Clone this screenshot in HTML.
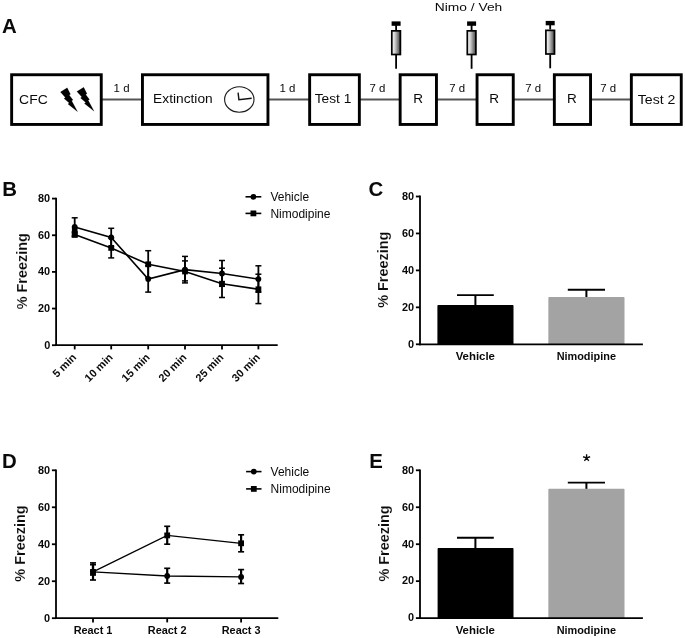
<!DOCTYPE html>
<html><head><meta charset="utf-8"><title>Figure</title>
<style>html,body{margin:0;padding:0;background:#fff;}svg{will-change:transform;display:block;position:absolute;left:0;top:0;}text{font-family:"Liberation Sans", sans-serif;fill:#0a0a0a;}</style>
</head><body>
<svg width="685" height="638" viewBox="0 0 685 638">
<defs><linearGradient id="syr" x1="0" y1="0" x2="1" y2="0"><stop offset="0" stop-color="#ffffff"/><stop offset="0.35" stop-color="#d0d0d0"/><stop offset="1" stop-color="#404040"/></linearGradient></defs>
<rect x="0" y="0" width="685" height="638" fill="#ffffff"/>
<text x="2.00" y="33.40" font-size="20.40" font-weight="bold">A</text>
<text x="2.20" y="196.10" font-size="20.40" font-weight="bold">B</text>
<text x="368.60" y="196.00" font-size="20.40" font-weight="bold">C</text>
<text x="2.00" y="468.00" font-size="20.40" font-weight="bold">D</text>
<text x="369.20" y="468.00" font-size="20.40" font-weight="bold">E</text>
<line x1="101.7" y1="99.5" x2="142.0" y2="99.5" stroke="#555" stroke-width="1.9"/>
<line x1="268.4" y1="99.5" x2="309.2" y2="99.5" stroke="#555" stroke-width="1.9"/>
<line x1="359.8" y1="99.5" x2="399.7" y2="99.5" stroke="#555" stroke-width="1.9"/>
<line x1="436.9" y1="99.5" x2="476.6" y2="99.5" stroke="#555" stroke-width="1.9"/>
<line x1="513.7" y1="99.5" x2="553.9" y2="99.5" stroke="#555" stroke-width="1.9"/>
<line x1="591.0" y1="99.5" x2="630.9" y2="99.5" stroke="#555" stroke-width="1.9"/>
<rect x="11.65" y="74.75" width="89.60" height="49.70" fill="#fff" stroke="#000" stroke-width="2.9"/>
<rect x="142.45" y="74.75" width="125.50" height="49.70" fill="#fff" stroke="#000" stroke-width="2.9"/>
<rect x="309.65" y="74.75" width="49.70" height="49.70" fill="#fff" stroke="#000" stroke-width="2.9"/>
<rect x="400.15" y="74.75" width="36.30" height="49.70" fill="#fff" stroke="#000" stroke-width="2.9"/>
<rect x="477.05" y="74.75" width="36.20" height="49.70" fill="#fff" stroke="#000" stroke-width="2.9"/>
<rect x="554.35" y="74.75" width="36.20" height="49.70" fill="#fff" stroke="#000" stroke-width="2.9"/>
<rect x="631.35" y="74.75" width="49.90" height="49.70" fill="#fff" stroke="#000" stroke-width="2.9"/>
<text x="19.10" y="104.30" font-size="12.00" textLength="28.60" lengthAdjust="spacingAndGlyphs">CFC</text>
<text x="153.10" y="103.20" font-size="12.00" textLength="59.60" lengthAdjust="spacingAndGlyphs">Extinction</text>
<text x="314.70" y="103.10" font-size="12.00" textLength="36.60" lengthAdjust="spacingAndGlyphs">Test 1</text>
<text x="637.80" y="103.80" font-size="12.00" textLength="37.60" lengthAdjust="spacingAndGlyphs">Test 2</text>
<text x="413.20" y="102.90" font-size="12.00" textLength="9.80" lengthAdjust="spacingAndGlyphs">R</text>
<text x="489.30" y="102.90" font-size="12.00" textLength="9.80" lengthAdjust="spacingAndGlyphs">R</text>
<text x="566.90" y="102.90" font-size="12.00" textLength="9.80" lengthAdjust="spacingAndGlyphs">R</text>
<text x="113.60" y="92.20" font-size="10.20" textLength="15.90" lengthAdjust="spacingAndGlyphs">1 d</text>
<text x="279.50" y="92.20" font-size="10.20" textLength="15.90" lengthAdjust="spacingAndGlyphs">1 d</text>
<text x="369.50" y="92.20" font-size="10.20" textLength="15.90" lengthAdjust="spacingAndGlyphs">7 d</text>
<text x="449.30" y="92.20" font-size="10.20" textLength="15.90" lengthAdjust="spacingAndGlyphs">7 d</text>
<text x="525.20" y="92.20" font-size="10.20" textLength="15.90" lengthAdjust="spacingAndGlyphs">7 d</text>
<text x="600.30" y="92.20" font-size="10.20" textLength="15.90" lengthAdjust="spacingAndGlyphs">7 d</text>
<text x="434.80" y="11.00" font-size="11.70" textLength="67.50" lengthAdjust="spacingAndGlyphs">Nimo / Veh</text>
<polygon points="60.4,92.0 67.2,87.8 70.5,94.3 69.2,95.0 73.0,100.0 71.7,100.8 77.6,111.7 67.9,104.0 69.2,103.1 64.0,98.5 65.3,97.5" fill="#000" stroke="#000" stroke-width="0.15"/>
<polygon points="76.9,91.5 83.7,87.3 87.0,93.8 85.7,94.5 89.5,99.5 88.2,100.3 94.1,111.2 84.4,103.5 85.7,102.6 80.5,98.0 81.8,97.0" fill="#000" stroke="#000" stroke-width="0.15"/>
<ellipse cx="239.3" cy="99.5" rx="14.7" ry="12.7" fill="#fff" stroke="#1a1a1a" stroke-width="1.1"/>
<polyline points="238.1,92.6 238.9,99.7 251.7,98.2" fill="none" stroke="#111" stroke-width="1.4"/>
<g transform="translate(0,0.00)">
<rect x="391.6" y="21.4" width="9.0" height="4.4" fill="#000"/>
<line x1="396.1" y1="25" x2="396.1" y2="30" stroke="#000" stroke-width="1.8"/>
<rect x="391.8" y="30.85" width="8.6" height="23.65" fill="url(#syr)" stroke="#000" stroke-width="1.7"/>
<line x1="396.1" y1="55" x2="396.1" y2="68.8" stroke="#000" stroke-width="1.8"/>
</g>
<g transform="translate(0,0.00)">
<rect x="467.1" y="21.4" width="9.0" height="4.4" fill="#000"/>
<line x1="471.6" y1="25" x2="471.6" y2="30" stroke="#000" stroke-width="1.8"/>
<rect x="467.3" y="30.85" width="8.6" height="23.65" fill="url(#syr)" stroke="#000" stroke-width="1.7"/>
<line x1="471.6" y1="55" x2="471.6" y2="68.8" stroke="#000" stroke-width="1.8"/>
</g>
<g transform="translate(0,-0.50)">
<rect x="545.7" y="21.4" width="9.0" height="4.4" fill="#000"/>
<line x1="550.2" y1="25" x2="550.2" y2="30" stroke="#000" stroke-width="1.8"/>
<rect x="545.9" y="30.85" width="8.6" height="23.65" fill="url(#syr)" stroke="#000" stroke-width="1.7"/>
<line x1="550.2" y1="55" x2="550.2" y2="68.8" stroke="#000" stroke-width="1.8"/>
</g>
<line x1="56.10" y1="197.70" x2="56.10" y2="346.10" stroke="#000" stroke-width="1.8"/>
<line x1="52.00" y1="345.20" x2="56.10" y2="345.20" stroke="#000" stroke-width="1.8"/>
<text x="50.20" y="348.50" font-size="10.90" font-weight="bold" text-anchor="end">0</text>
<line x1="52.00" y1="308.55" x2="56.10" y2="308.55" stroke="#000" stroke-width="1.8"/>
<text x="50.20" y="311.85" font-size="10.90" font-weight="bold" text-anchor="end">20</text>
<line x1="52.00" y1="271.90" x2="56.10" y2="271.90" stroke="#000" stroke-width="1.8"/>
<text x="50.20" y="275.20" font-size="10.90" font-weight="bold" text-anchor="end">40</text>
<line x1="52.00" y1="235.25" x2="56.10" y2="235.25" stroke="#000" stroke-width="1.8"/>
<text x="50.20" y="238.55" font-size="10.90" font-weight="bold" text-anchor="end">60</text>
<line x1="52.00" y1="198.60" x2="56.10" y2="198.60" stroke="#000" stroke-width="1.8"/>
<text x="50.20" y="201.90" font-size="10.90" font-weight="bold" text-anchor="end">80</text>
<text transform="translate(27.30,271.20) rotate(-90)" font-size="14.45" font-weight="bold" text-anchor="middle" stroke="#fff" stroke-width="0.12">% Freezing</text>
<line x1="55.20" y1="345.20" x2="277.70" y2="345.20" stroke="#000" stroke-width="1.8"/>
<line x1="74.70" y1="345.20" x2="74.70" y2="349.40" stroke="#000" stroke-width="1.8"/>
<line x1="111.20" y1="345.20" x2="111.20" y2="349.40" stroke="#000" stroke-width="1.8"/>
<line x1="148.20" y1="345.20" x2="148.20" y2="349.40" stroke="#000" stroke-width="1.8"/>
<line x1="185.00" y1="345.20" x2="185.00" y2="349.40" stroke="#000" stroke-width="1.8"/>
<line x1="222.00" y1="345.20" x2="222.00" y2="349.40" stroke="#000" stroke-width="1.8"/>
<line x1="258.40" y1="345.20" x2="258.40" y2="349.40" stroke="#000" stroke-width="1.8"/>
<text transform="translate(77.00,358.00) rotate(-45)" font-size="10.90" font-weight="bold" text-anchor="end">5 min</text>
<text transform="translate(113.50,358.00) rotate(-45)" font-size="10.90" font-weight="bold" text-anchor="end">10 min</text>
<text transform="translate(150.50,358.00) rotate(-45)" font-size="10.90" font-weight="bold" text-anchor="end">15 min</text>
<text transform="translate(187.30,358.00) rotate(-45)" font-size="10.90" font-weight="bold" text-anchor="end">20 min</text>
<text transform="translate(224.30,358.00) rotate(-45)" font-size="10.90" font-weight="bold" text-anchor="end">25 min</text>
<text transform="translate(260.70,358.00) rotate(-45)" font-size="10.90" font-weight="bold" text-anchor="end">30 min</text>
<polyline points="74.70,227.00 111.20,237.50 148.20,279.00 185.00,269.60 222.00,273.50 258.40,279.10" fill="none" stroke="#000" stroke-width="1.60"/>
<path d="M74.70 217.80V236.00" stroke="#000" stroke-width="1.80" fill="none"/>
<path d="M71.70 217.80H77.70" stroke="#000" stroke-width="1.50" fill="none"/>
<path d="M71.70 236.00H77.70" stroke="#000" stroke-width="1.50" fill="none"/>
<circle cx="74.70" cy="227.00" r="2.9" fill="#000"/>
<path d="M111.20 228.30V246.70" stroke="#000" stroke-width="1.80" fill="none"/>
<path d="M108.20 228.30H114.20" stroke="#000" stroke-width="1.50" fill="none"/>
<path d="M108.20 246.70H114.20" stroke="#000" stroke-width="1.50" fill="none"/>
<circle cx="111.20" cy="237.50" r="2.9" fill="#000"/>
<path d="M148.20 265.80V292.10" stroke="#000" stroke-width="1.80" fill="none"/>
<path d="M145.20 265.80H151.20" stroke="#000" stroke-width="1.50" fill="none"/>
<path d="M145.20 292.10H151.20" stroke="#000" stroke-width="1.50" fill="none"/>
<circle cx="148.20" cy="279.00" r="2.9" fill="#000"/>
<path d="M185.00 256.40V282.90" stroke="#000" stroke-width="1.80" fill="none"/>
<path d="M182.00 256.40H188.00" stroke="#000" stroke-width="1.50" fill="none"/>
<path d="M182.00 282.90H188.00" stroke="#000" stroke-width="1.50" fill="none"/>
<circle cx="185.00" cy="269.60" r="2.9" fill="#000"/>
<path d="M222.00 260.50V286.30" stroke="#000" stroke-width="1.80" fill="none"/>
<path d="M219.00 260.50H225.00" stroke="#000" stroke-width="1.50" fill="none"/>
<path d="M219.00 286.30H225.00" stroke="#000" stroke-width="1.50" fill="none"/>
<circle cx="222.00" cy="273.50" r="2.9" fill="#000"/>
<path d="M258.40 265.80V292.20" stroke="#000" stroke-width="1.80" fill="none"/>
<path d="M255.40 265.80H261.40" stroke="#000" stroke-width="1.50" fill="none"/>
<path d="M255.40 292.20H261.40" stroke="#000" stroke-width="1.50" fill="none"/>
<circle cx="258.40" cy="279.10" r="2.9" fill="#000"/>
<polyline points="74.70,234.50 111.20,247.90 148.20,264.30 185.00,271.50 222.00,283.70 258.40,289.30" fill="none" stroke="#000" stroke-width="1.60"/>
<path d="M74.70 232.00V237.00" stroke="#000" stroke-width="1.80" fill="none"/>
<path d="M71.70 232.00H77.70" stroke="#000" stroke-width="1.50" fill="none"/>
<path d="M71.70 237.00H77.70" stroke="#000" stroke-width="1.50" fill="none"/>
<rect x="71.80" y="231.60" width="5.8" height="5.8" fill="#000"/>
<path d="M111.20 238.00V257.90" stroke="#000" stroke-width="1.80" fill="none"/>
<path d="M108.20 238.00H114.20" stroke="#000" stroke-width="1.50" fill="none"/>
<path d="M108.20 257.90H114.20" stroke="#000" stroke-width="1.50" fill="none"/>
<rect x="108.30" y="245.00" width="5.8" height="5.8" fill="#000"/>
<path d="M148.20 250.70V277.90" stroke="#000" stroke-width="1.80" fill="none"/>
<path d="M145.20 250.70H151.20" stroke="#000" stroke-width="1.50" fill="none"/>
<path d="M145.20 277.90H151.20" stroke="#000" stroke-width="1.50" fill="none"/>
<rect x="145.30" y="261.40" width="5.8" height="5.8" fill="#000"/>
<path d="M185.00 260.90V280.90" stroke="#000" stroke-width="1.80" fill="none"/>
<path d="M182.00 260.90H188.00" stroke="#000" stroke-width="1.50" fill="none"/>
<path d="M182.00 280.90H188.00" stroke="#000" stroke-width="1.50" fill="none"/>
<rect x="182.10" y="268.60" width="5.8" height="5.8" fill="#000"/>
<path d="M222.00 268.20V297.50" stroke="#000" stroke-width="1.80" fill="none"/>
<path d="M219.00 268.20H225.00" stroke="#000" stroke-width="1.50" fill="none"/>
<path d="M219.00 297.50H225.00" stroke="#000" stroke-width="1.50" fill="none"/>
<rect x="219.10" y="280.80" width="5.8" height="5.8" fill="#000"/>
<path d="M258.40 274.20V303.60" stroke="#000" stroke-width="1.80" fill="none"/>
<path d="M255.40 274.20H261.40" stroke="#000" stroke-width="1.50" fill="none"/>
<path d="M255.40 303.60H261.40" stroke="#000" stroke-width="1.50" fill="none"/>
<rect x="255.50" y="286.40" width="5.8" height="5.8" fill="#000"/>
<rect x="71.9" y="226.5" width="5.6" height="9" fill="#000"/>
<line x1="245.50" y1="196.80" x2="261.30" y2="196.80" stroke="#000" stroke-width="1.6"/>
<circle cx="253.40" cy="196.80" r="2.9" fill="#000"/>
<text x="270.40" y="201.10" font-size="12.00">Vehicle</text>
<line x1="245.50" y1="213.40" x2="261.30" y2="213.40" stroke="#000" stroke-width="1.6"/>
<rect x="250.50" y="210.50" width="5.8" height="5.8" fill="#000"/>
<text x="270.40" y="217.70" font-size="12.00">Nimodipine</text>
<line x1="56.00" y1="469.40" x2="56.00" y2="619.10" stroke="#000" stroke-width="1.8"/>
<line x1="51.90" y1="618.20" x2="56.00" y2="618.20" stroke="#000" stroke-width="1.8"/>
<text x="50.10" y="621.50" font-size="10.90" font-weight="bold" text-anchor="end">0</text>
<line x1="51.90" y1="581.23" x2="56.00" y2="581.23" stroke="#000" stroke-width="1.8"/>
<text x="50.10" y="584.52" font-size="10.90" font-weight="bold" text-anchor="end">20</text>
<line x1="51.90" y1="544.25" x2="56.00" y2="544.25" stroke="#000" stroke-width="1.8"/>
<text x="50.10" y="547.55" font-size="10.90" font-weight="bold" text-anchor="end">40</text>
<line x1="51.90" y1="507.28" x2="56.00" y2="507.28" stroke="#000" stroke-width="1.8"/>
<text x="50.10" y="510.58" font-size="10.90" font-weight="bold" text-anchor="end">60</text>
<line x1="51.90" y1="470.30" x2="56.00" y2="470.30" stroke="#000" stroke-width="1.8"/>
<text x="50.10" y="473.60" font-size="10.90" font-weight="bold" text-anchor="end">80</text>
<text transform="translate(24.70,543.55) rotate(-90)" font-size="14.45" font-weight="bold" text-anchor="middle" stroke="#fff" stroke-width="0.12">% Freezing</text>
<line x1="55.10" y1="618.20" x2="278.30" y2="618.20" stroke="#000" stroke-width="1.8"/>
<line x1="93.00" y1="618.20" x2="93.00" y2="622.40" stroke="#000" stroke-width="1.8"/>
<line x1="167.20" y1="618.20" x2="167.20" y2="622.40" stroke="#000" stroke-width="1.8"/>
<line x1="241.10" y1="618.20" x2="241.10" y2="622.40" stroke="#000" stroke-width="1.8"/>
<text x="93.00" y="633.60" font-size="10.90" font-weight="bold" text-anchor="middle">React 1</text>
<text x="167.20" y="633.60" font-size="10.90" font-weight="bold" text-anchor="middle">React 2</text>
<text x="241.10" y="633.60" font-size="10.90" font-weight="bold" text-anchor="middle">React 3</text>
<polyline points="93.00,571.90 167.20,576.00 241.10,576.90" fill="none" stroke="#000" stroke-width="1.30"/>
<path d="M93.00 564.70V575.00" stroke="#000" stroke-width="2.20" fill="none"/>
<path d="M90.00 564.70H96.00" stroke="#000" stroke-width="1.65" fill="none"/>
<path d="M90.00 575.00H96.00" stroke="#000" stroke-width="1.65" fill="none"/>
<circle cx="93.00" cy="571.90" r="2.9" fill="#000"/>
<path d="M167.20 568.30V583.10" stroke="#000" stroke-width="2.20" fill="none"/>
<path d="M164.20 568.30H170.20" stroke="#000" stroke-width="1.65" fill="none"/>
<path d="M164.20 583.10H170.20" stroke="#000" stroke-width="1.65" fill="none"/>
<circle cx="167.20" cy="576.00" r="2.9" fill="#000"/>
<path d="M241.10 569.60V583.50" stroke="#000" stroke-width="2.20" fill="none"/>
<path d="M238.10 569.60H244.10" stroke="#000" stroke-width="1.65" fill="none"/>
<path d="M238.10 583.50H244.10" stroke="#000" stroke-width="1.65" fill="none"/>
<circle cx="241.10" cy="576.90" r="2.9" fill="#000"/>
<polyline points="93.00,571.90 167.20,535.40 241.10,543.30" fill="none" stroke="#000" stroke-width="1.30"/>
<path d="M93.00 562.90V580.00" stroke="#000" stroke-width="2.20" fill="none"/>
<path d="M90.00 562.90H96.00" stroke="#000" stroke-width="1.65" fill="none"/>
<path d="M90.00 580.00H96.00" stroke="#000" stroke-width="1.65" fill="none"/>
<rect x="90.10" y="569.00" width="5.8" height="5.8" fill="#000"/>
<path d="M167.20 526.30V544.20" stroke="#000" stroke-width="2.20" fill="none"/>
<path d="M164.20 526.30H170.20" stroke="#000" stroke-width="1.65" fill="none"/>
<path d="M164.20 544.20H170.20" stroke="#000" stroke-width="1.65" fill="none"/>
<rect x="164.30" y="532.50" width="5.8" height="5.8" fill="#000"/>
<path d="M241.10 534.80V551.80" stroke="#000" stroke-width="2.20" fill="none"/>
<path d="M238.10 534.80H244.10" stroke="#000" stroke-width="1.65" fill="none"/>
<path d="M238.10 551.80H244.10" stroke="#000" stroke-width="1.65" fill="none"/>
<rect x="238.20" y="540.40" width="5.8" height="5.8" fill="#000"/>
<line x1="246.10" y1="471.60" x2="261.50" y2="471.60" stroke="#000" stroke-width="1.6"/>
<circle cx="253.80" cy="471.60" r="2.9" fill="#000"/>
<text x="270.60" y="475.90" font-size="12.00">Vehicle</text>
<line x1="246.10" y1="488.90" x2="261.50" y2="488.90" stroke="#000" stroke-width="1.6"/>
<rect x="250.90" y="486.00" width="5.8" height="5.8" fill="#000"/>
<text x="270.60" y="493.20" font-size="12.00">Nimodipine</text>
<line x1="420.00" y1="195.60" x2="420.00" y2="345.20" stroke="#000" stroke-width="1.8"/>
<line x1="415.90" y1="344.30" x2="420.00" y2="344.30" stroke="#000" stroke-width="1.8"/>
<text x="414.10" y="347.60" font-size="10.90" font-weight="bold" text-anchor="end">0</text>
<line x1="415.90" y1="307.35" x2="420.00" y2="307.35" stroke="#000" stroke-width="1.8"/>
<text x="414.10" y="310.65" font-size="10.90" font-weight="bold" text-anchor="end">20</text>
<line x1="415.90" y1="270.40" x2="420.00" y2="270.40" stroke="#000" stroke-width="1.8"/>
<text x="414.10" y="273.70" font-size="10.90" font-weight="bold" text-anchor="end">40</text>
<line x1="415.90" y1="233.45" x2="420.00" y2="233.45" stroke="#000" stroke-width="1.8"/>
<text x="414.10" y="236.75" font-size="10.90" font-weight="bold" text-anchor="end">60</text>
<line x1="415.90" y1="196.50" x2="420.00" y2="196.50" stroke="#000" stroke-width="1.8"/>
<text x="414.10" y="199.80" font-size="10.90" font-weight="bold" text-anchor="end">80</text>
<text transform="translate(388.00,269.70) rotate(-90)" font-size="14.45" font-weight="bold" text-anchor="middle" stroke="#fff" stroke-width="0.12">% Freezing</text>
<path d="M475.40 306.10V295.10" stroke="#000" stroke-width="2.0" fill="none"/>
<path d="M457.00 295.10H493.80" stroke="#000" stroke-width="1.9" fill="none"/>
<rect x="437.40" y="305.10" width="76.10" height="40.00" rx="0.8" fill="#000"/>
<path d="M586.40 298.00V289.80" stroke="#000" stroke-width="2.0" fill="none"/>
<path d="M567.80 289.80H605.00" stroke="#000" stroke-width="1.9" fill="none"/>
<rect x="548.35" y="297.00" width="76.15" height="48.10" rx="0.8" fill="#a3a3a3"/>
<line x1="419.10" y1="344.30" x2="642.90" y2="344.30" stroke="#000" stroke-width="1.8"/>
<text x="475.30" y="359.80" font-size="10.90" font-weight="bold" text-anchor="middle" textLength="39.30" lengthAdjust="spacingAndGlyphs">Vehicle</text>
<text x="586.30" y="359.80" font-size="10.90" font-weight="bold" text-anchor="middle">Nimodipine</text>
<line x1="420.00" y1="469.40" x2="420.00" y2="619.00" stroke="#000" stroke-width="1.8"/>
<line x1="415.90" y1="618.10" x2="420.00" y2="618.10" stroke="#000" stroke-width="1.8"/>
<text x="414.10" y="621.40" font-size="10.90" font-weight="bold" text-anchor="end">0</text>
<line x1="415.90" y1="581.15" x2="420.00" y2="581.15" stroke="#000" stroke-width="1.8"/>
<text x="414.10" y="584.45" font-size="10.90" font-weight="bold" text-anchor="end">20</text>
<line x1="415.90" y1="544.20" x2="420.00" y2="544.20" stroke="#000" stroke-width="1.8"/>
<text x="414.10" y="547.50" font-size="10.90" font-weight="bold" text-anchor="end">40</text>
<line x1="415.90" y1="507.25" x2="420.00" y2="507.25" stroke="#000" stroke-width="1.8"/>
<text x="414.10" y="510.55" font-size="10.90" font-weight="bold" text-anchor="end">60</text>
<line x1="415.90" y1="470.30" x2="420.00" y2="470.30" stroke="#000" stroke-width="1.8"/>
<text x="414.10" y="473.60" font-size="10.90" font-weight="bold" text-anchor="end">80</text>
<text transform="translate(388.90,543.50) rotate(-90)" font-size="14.45" font-weight="bold" text-anchor="middle" stroke="#fff" stroke-width="0.12">% Freezing</text>
<path d="M475.40 548.90V537.80" stroke="#000" stroke-width="2.0" fill="none"/>
<path d="M457.00 537.80H493.80" stroke="#000" stroke-width="1.9" fill="none"/>
<rect x="437.60" y="547.90" width="75.90" height="71.00" rx="0.8" fill="#000"/>
<path d="M586.40 489.70V482.65" stroke="#000" stroke-width="2.0" fill="none"/>
<path d="M567.80 482.65H605.00" stroke="#000" stroke-width="1.9" fill="none"/>
<rect x="548.35" y="488.70" width="76.15" height="130.20" rx="0.8" fill="#a3a3a3"/>
<line x1="419.10" y1="618.10" x2="642.90" y2="618.10" stroke="#000" stroke-width="1.8"/>
<text x="475.30" y="633.50" font-size="10.90" font-weight="bold" text-anchor="middle" textLength="39.30" lengthAdjust="spacingAndGlyphs">Vehicle</text>
<text x="586.30" y="633.50" font-size="10.90" font-weight="bold" text-anchor="middle">Nimodipine</text>
<path d="M586.60 457.90L586.60 454.20M586.60 457.90L590.12 456.76M586.60 457.90L588.77 460.89M586.60 457.90L584.43 460.89M586.60 457.90L583.08 456.76" stroke="#0a0a0a" stroke-width="1.35" fill="none"/>
</svg></body></html>
